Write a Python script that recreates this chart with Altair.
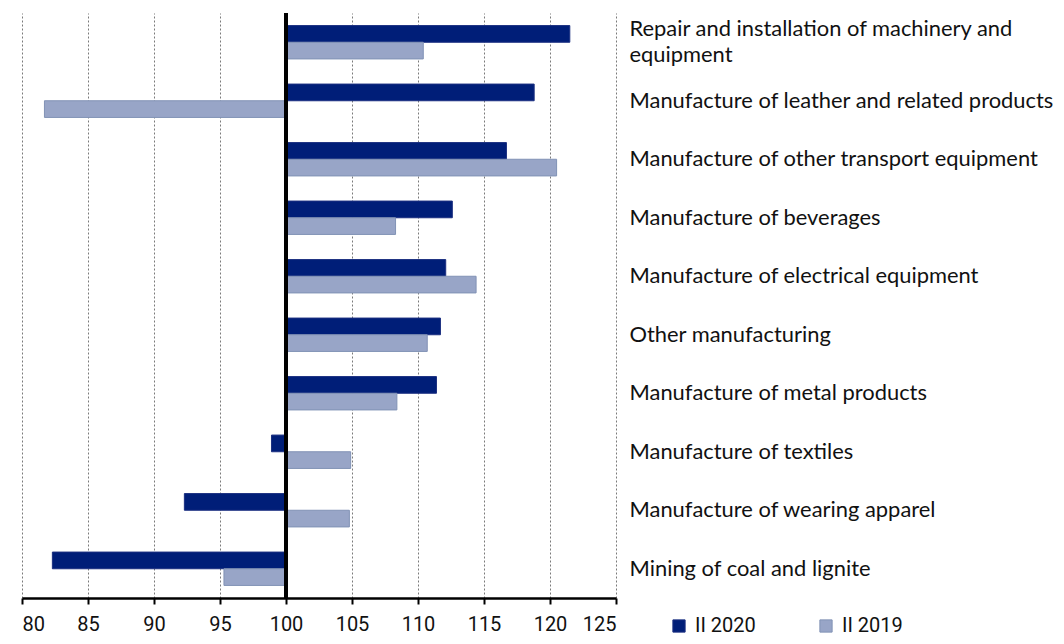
import altair as alt
import pandas as pd

categories = [
    "Repair and installation of machinery and equipment",
    "Manufacture of leather and related products",
    "Manufacture of other transport equipment",
    "Manufacture of beverages",
    "Manufacture of electrical equipment",
    "Other manufacturing",
    "Manufacture of metal products",
    "Manufacture of textiles",
    "Manufacture of wearing apparel",
    "Mining of coal and lignite",
]
ii_2020 = [121.5, 118.8, 116.7, 112.6, 112.1, 111.7, 111.4, 98.9, 92.3, 82.3]
ii_2019 = [110.4, 81.7, 120.5, 108.3, 114.4, 110.7, 108.4, 104.9, 104.8, 95.3]
series = ["II 2020", "II 2019"]
x_ticks = [80, 85, 90, 95, 100, 105, 110, 115, 120, 125]

rows = []
for c, a, b in zip(categories, ii_2020, ii_2019):
    rows.append({"category": c, "series": series[0], "value": a})
    rows.append({"category": c, "series": series[1], "value": b})
df = pd.DataFrame(rows)

fill_colors = ["#001e78", "#98a5c7"]
stroke_colors = ["#1b2f80", "#8192b5"]

long_label = "Repair and installation of machinery and equipment"
label_expr = (
    f"datum.value == '{long_label}' ? "
    "['Repair and installation of machinery and', 'equipment'] : datum.value"
)

bars = alt.Chart(df).mark_bar(strokeWidth=1).encode(
    y=alt.Y(
        "category:N",
        sort=categories,
        scale=alt.Scale(paddingInner=0.43, paddingOuter=0.215),
        axis=alt.Axis(
            orient="right", title=None, domain=False, ticks=False,
            labelPadding=13, labelAlign="left", labelBaseline="middle",
            labelFont="Lato", labelFontSize=21.9, labelColor="#111",
            labelLimit=1000, labelLineHeight=26, labelExpr=label_expr,
            labelOffset={
                "condition": {"test": f"datum.value == '{long_label}'", "value": -13},
                "value": 0,
            },
        ),
    ),
    yOffset=alt.YOffset("series:N", sort=series),
    x=alt.X(
        "value:Q",
        scale=alt.Scale(domain=[80, 125], nice=False, zero=False),
        axis=alt.Axis(
            title=None, values=x_ticks, grid=True, gridDash=[2, 2],
            gridColor="#7a7a7a", gridWidth=1, domainColor="black",
            domainWidth=2.5, tickColor="black", tickWidth=2, tickSize=6,
            labelPadding=10, labelFont="Roboto",
            labelFontSize=20, labelColor="#111",
        ),
    ),
    x2=alt.datum(100),
    color=alt.Color(
        "series:N",
        scale=alt.Scale(domain=series, range=fill_colors),
        legend=alt.Legend(
            title=None, orient="none", direction="horizontal",
            legendX=647, legendY=603, padding=0,
            symbolType="square", symbolSize=150, symbolStrokeWidth=1,
            labelFont="Roboto", labelFontSize=20,
            labelColor="#111", labelOffset=6, columnPadding=60,
        ),
    ),
    stroke=alt.Stroke(
        "series:N",
        scale=alt.Scale(domain=series, range=stroke_colors),
        legend=None,
    ),
)

rule = alt.Chart(df).mark_rule(color="black", strokeWidth=3).encode(
    x=alt.datum(100)
)

chart = (
    alt.layer(bars, rule)
    .properties(
        width=594,
        height=585,
        autosize=alt.AutoSizeParams(type="none"),
        padding={"left": 14, "top": 5, "right": 440, "bottom": 38},
    )
    .configure_view(stroke=None)
)

chart.save("out.html", embed_options={"renderer": "svg", "actions": False})
